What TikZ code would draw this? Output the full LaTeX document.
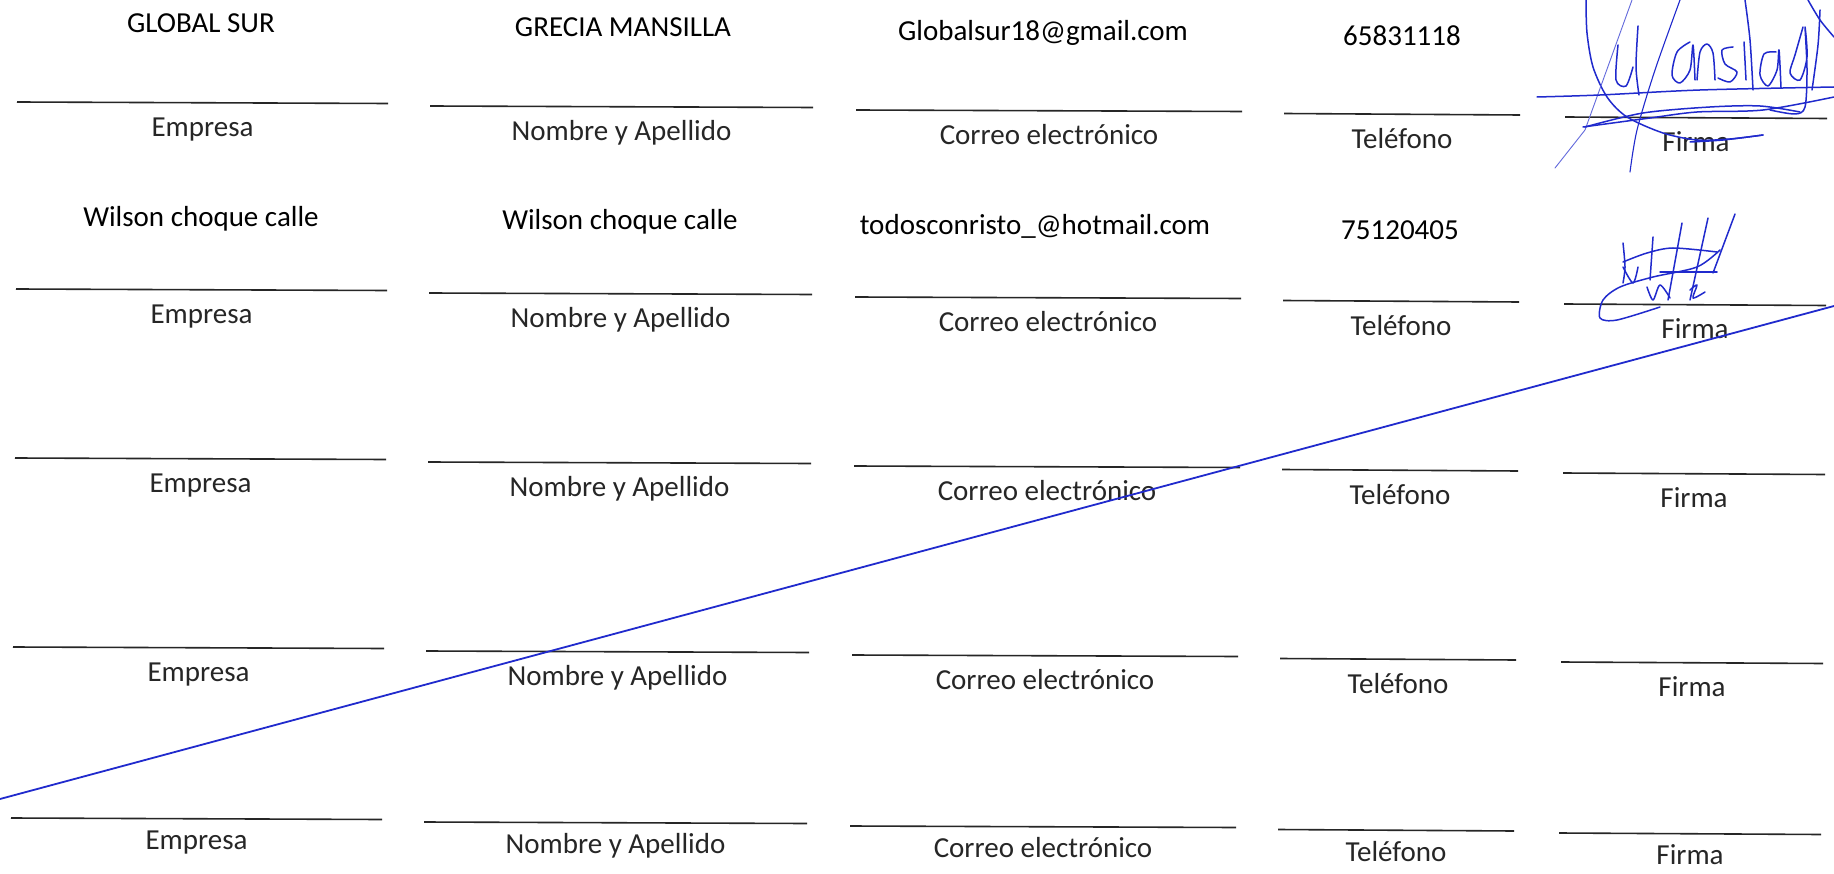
\documentclass[tikz,border=0pt]{standalone}
\usepackage{fontspec}
\setmainfont{Carlito}
\usetikzlibrary{positioning}
\definecolor{tinta}{RGB}{32,42,205}
\tikzset{
	raya/.style={line width=1.6pt, black!85},
	campo/.style={font=\fontsize{29}{35}\selectfont, inner sep=0pt, anchor=base},
	dato/.style={font=\fontsize{29}{35}\selectfont, inner sep=0pt, anchor=base},
	trazo/.style={tinta, line width=1.5pt, line cap=round, line join=round},
	trazofino/.style={tinta!70, line width=0.9pt, line cap=round},
}
\begin{document}
\begin{tikzpicture}[x=1pt,y=-1pt]
	\useasboundingbox[fill=white] (0,0) rectangle (1834,874);
%
	% filas de rayas con su rotulo
	\foreach \r/\dx/\yy/\lo in {1/0/102/34, 2/-1/289/34, 3/-2/458/34, 4/-4/647/34, 5/-6/818/31}{
		\begin{scope}[shift={(\dx,\yy)}]
			\foreach \c/\xa/\xb/\dy/\txt in {e/17/388/0/Empresa, n/430/813/4/Nombre y Apellido, c/856/1242/8/Correo electrónico, t/1284/1520/11.5/Teléfono, f/1565/1827/15/Firma}{
				\coordinate (\c\r a) at (\xa,\dy);
				\coordinate (\c\r b) at (\xb,\dy+1.5);
				\draw[raya] (\c\r a) -- (\c\r b) node[midway, campo, yshift=-\lo pt] (\c\r l) {\txt};
			}
		\end{scope}
	}
%
	% datos escritos
	\node[dato] (v1e) at (201,33) {GLOBAL SUR};
	\node[dato] (v1n) at (623,37) {GRECIA MANSILLA};
	\node[dato] (v1c) at (1043,41) {Globalsur18@gmail.com};
	\node[dato] (v1t) at (1402,46) {65831118};
	\node[dato] (v2e) at (201,227) {Wilson choque calle};
	\node[dato] (v2n) at (620,230) {Wilson choque calle};
	\node[dato] (v2c) at (1035,235) {todosconristo\_@hotmail.com};
	\node[dato] (v2t) at (1400,240) {75120405};
%
	% raya que anula las filas vacias
	\coordinate (tachaA) at (0,799);
	\coordinate (tachaB) at (1834,306);
	\draw[trazo, line width=1.8pt] (tachaA) -- (tachaB);
%
	% firma 1
	\begin{scope}
		\draw[trazo] plot[smooth] coordinates {(1586,0) (1587,33) (1593,67) (1607,97) (1627,117) (1663,133) (1697,140) (1730,139) (1763,135)};
		\draw[trazofino] (1632,0) -- (1585,130) -- (1555,168);
		\draw[trazo, line width=1.1pt] plot[smooth] coordinates {(1680,0) (1655,70) (1637,130) (1630,172)};
		\draw[trazo] plot[smooth] coordinates {(1618,45) (1616,80) (1626,86) (1633,67)};
		\draw[trazo] plot[smooth] coordinates {(1638,26) (1636,67) (1639,95)};
		\draw[trazo] plot[smooth] coordinates {(1690,42) (1677,52) (1672,75) (1680,83) (1690,70) (1693,45) (1695,80)};
		\draw[trazo] plot[smooth] coordinates {(1697,80) (1700,52) (1707,44) (1713,53) (1715,80)};
		\draw[trazo] plot[smooth] coordinates {(1733,47) (1722,50) (1725,64) (1737,72) (1730,82) (1718,78)};
		\draw[trazo] (1744,42) -- (1746,80);
		\draw[trazo] plot[smooth] coordinates {(1745,0) (1750,40) (1753,90)};
		\draw[trazo] plot[smooth] coordinates {(1776,52) (1764,54) (1760,75) (1768,86) (1777,70) (1779,50) (1781,88)};
		\draw[trazo] plot[smooth] coordinates {(1803,27) (1795,55) (1790,73) (1800,80) (1807,57) (1805,27) (1807,70) (1805,107) (1795,114) (1770,110)};
		\draw[trazo] plot[smooth] coordinates {(1808,0) (1820,20) (1834,37)};
		\draw[trazo] plot[smooth] coordinates {(1820,10) (1818,45) (1812,90)};
		\draw[trazo] plot[smooth] coordinates {(1537,97) (1600,95) (1700,90) (1834,87)};
		\draw[trazo] plot[smooth] coordinates {(1585,127) (1643,113) (1710,107) (1760,106) (1800,112)};
		\draw[trazo] plot[smooth] coordinates {(1583,127) (1650,118) (1697,112) (1763,110) (1834,97)};
		\draw[trazo] plot[smooth] coordinates {(1690,142) (1723,140) (1763,135)};
	\end{scope}
%
	% firma 2
	\begin{scope}
		\draw[trazo] (1682,223) -- (1668,300);
		\draw[trazo] (1708,218) -- (1690,300);
		\draw[trazo] (1735,214) -- (1713,273);
		\draw[trazo] plot[smooth] coordinates {(1623,262) (1647,253) (1673,248) (1717,252)};
		\draw[trazo] (1660,272) -- (1717,272);
		\draw[trazo] plot[smooth] coordinates {(1720,250) (1697,267) (1653,277) (1620,287) (1603,300) (1600,318) (1617,320) (1660,307)};
		\draw[trazo] plot[smooth] coordinates {(1623,243) (1625,267) (1623,283)};
		\draw[trazo] plot[smooth] coordinates {(1623,267) (1633,283) (1638,267)};
		\draw[trazo] (1653,237) -- (1650,280);
		\draw[trazo] plot[smooth] coordinates {(1647,287) (1653,300) (1660,285) (1670,298)};
		\draw[trazo] plot[smooth] coordinates {(1690,290) (1697,285) (1693,298) (1705,292)};
	\end{scope}
\end{tikzpicture}
\end{document}
